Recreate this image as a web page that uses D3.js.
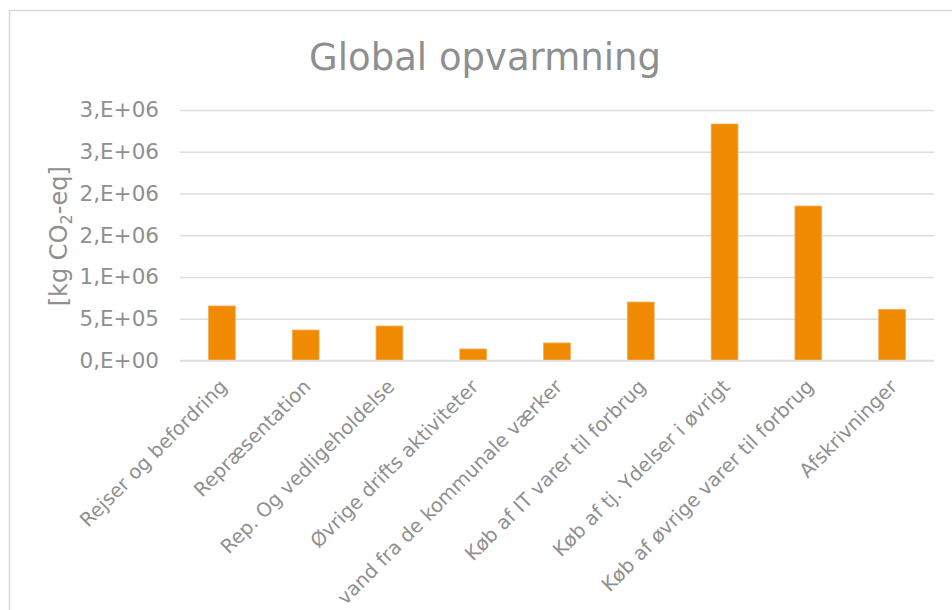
<!DOCTYPE html>
<html>
<head>
<meta charset="utf-8">
<script src="https://cdn.jsdelivr.net/npm/d3@7"></script>
<style>
  html, body { margin: 0; padding: 0; background: #fff; }
  svg { display: block; font-family: "DejaVu Sans", Verdana, sans-serif; }
</style>
</head>
<body>
<svg id="chart" width="952" height="610"></svg>
<script>
// Emissions per spending category, kg CO2-eq
const categories = [
  "Rejser og befordring",
  "Repræsentation",
  "Rep. Og vedligeholdelse",
  "Øvrige drifts aktiviteter",
  "vand fra de kommunale værker",
  "Køb af IT varer til forbrug",
  "Køb af tj. Ydelser i øvrigt",
  "Køb af øvrige varer til forbrug",
  "Afskrivninger"
];
const values = [653000, 365000, 413000, 138000, 210000, 700000, 2832000, 1850000, 613000];

// Axis ticks and the labels shown for them (scientific format, 0 decimals)
const tickValues = [0, 500000, 1000000, 1500000, 2000000, 2500000, 3000000];
const tickLabels = ["0,E+00", "5,E+05", "1,E+06", "2,E+06", "2,E+06", "3,E+06", "3,E+06"];

const title = "Global opvarmning";

const svg = d3.select("#chart");
const textColor = "#8f8f8f";
const gridColor = "#dedede";
const barColor = "#f08a00";

// Chart frame
svg.append("rect")
  .attr("x", 9.5).attr("y", 10.5)
  .attr("width", 980).attr("height", 640)
  .attr("fill", "#fff")
  .attr("stroke", "#d9d9d9")
  .attr("stroke-width", 1.5);

const plot = { left: 180, right: 934, top: 110, bottom: 360.5 };

const x = d3.scaleBand()
  .domain(categories)
  .range([plot.left, plot.right])
  .paddingInner(0.68)
  .paddingOuter(0.34);

const y = d3.scaleLinear()
  .domain([0, 3000000])
  .range([plot.bottom, plot.top]);

// Title
svg.append("text")
  .attr("x", (plot.left + plot.right) / 2 - 72)
  .attr("y", 70)
  .attr("text-anchor", "middle")
  .attr("fill", textColor)
  .attr("font-size", 37)
  .text(title);

// Horizontal gridlines
const yGrid = d3.axisLeft(y)
  .tickValues(tickValues)
  .tickSize(-(plot.right - plot.left))
  .tickFormat("");
svg.append("g")
  .attr("transform", `translate(${plot.left},0)`)
  .call(yGrid)
  .call(g => g.select(".domain").remove())
  .call(g => g.selectAll("line")
    .attr("stroke", gridColor)
    .attr("stroke-width", 1.5));

// Y tick labels
const yAxis = d3.axisLeft(y)
  .tickValues(tickValues)
  .tickSize(0)
  .tickPadding(21)
  .tickFormat((d, i) => tickLabels[i]);
svg.append("g")
  .attr("transform", `translate(${plot.left},0)`)
  .call(yAxis)
  .call(g => g.select(".domain").remove())
  .call(g => g.selectAll("text")
    .attr("fill", textColor)
    .attr("font-size", 21.5)
    .attr("font-family", "DejaVu Sans, Verdana, sans-serif"));

// Y axis title with subscript
const yTitle = svg.append("text")
  .attr("transform", `translate(67,${(plot.top + plot.bottom) / 2 + 1}) rotate(-90)`)
  .attr("text-anchor", "middle")
  .attr("fill", textColor)
  .attr("font-size", 24);
yTitle.append("tspan").text("[kg CO");
yTitle.append("tspan").attr("font-size", 16).attr("dy", 5).text("2");
yTitle.append("tspan").attr("dy", -5).text("-eq]");

// Bars
svg.append("g")
  .selectAll("rect")
  .data(categories.map((c, i) => ({ c, v: values[i] })))
  .join("rect")
  .attr("x", d => x(d.c))
  .attr("y", d => y(d.v))
  .attr("width", x.bandwidth())
  .attr("height", d => y(0) - y(d.v))
  .attr("fill", barColor)
  .attr("stroke", "#f5ad5a")
  .attr("stroke-width", 0.8);

// Baseline
svg.append("line")
  .attr("x1", plot.left).attr("x2", plot.right)
  .attr("y1", y(0)).attr("y2", y(0))
  .attr("stroke", gridColor)
  .attr("stroke-width", 1.5);

// Category labels, rotated 45 degrees
const xAxis = d3.axisBottom(x).tickSize(0).tickPadding(0);
svg.append("g")
  .attr("transform", `translate(0,${plot.bottom})`)
  .call(xAxis)
  .call(g => g.select(".domain").remove())
  .call(g => g.selectAll("text")
    .attr("fill", textColor)
    .attr("font-size", 19.5)
    .attr("font-family", "DejaVu Sans, Verdana, sans-serif")
    .attr("text-anchor", "end")
    .attr("dy", "0.75em")
    .attr("transform", "translate(-4,17) rotate(-45)"));
</script>
</body>
</html>
